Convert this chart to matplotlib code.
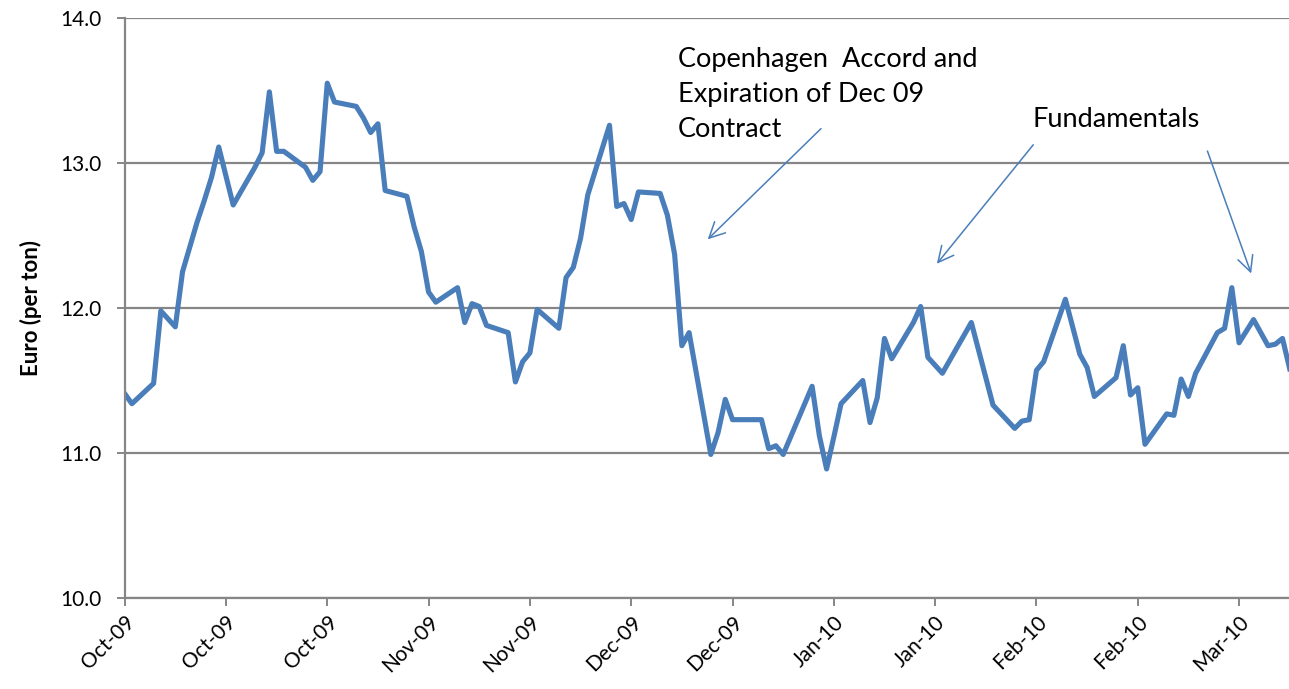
"""
plot.py
EUA price, Oct 2009 - Mar 2010, with annotations.
"""

import matplotlib
matplotlib.use("Agg")
import matplotlib.pyplot as plt

plt.rcParams["font.family"] = ["Lato", "DejaVu Sans"]

# trading day offset from 1 Oct 2009, price in euro per ton
days = [0, 1, 4, 5, 7, 8, 10, 11, 12, 13, 15, 18, 19, 20, 21, 22, 25, 26, 27, 28,
        29, 32, 33, 34, 35, 36, 39, 40, 41, 42, 43, 46, 47, 48, 49, 50, 53, 54, 55, 56,
        57, 60, 61, 62, 63, 64, 67, 68, 69, 70, 71, 74, 75, 76, 77, 78, 81, 82, 83, 84,
        88, 89, 90, 91, 95, 96, 97, 98, 99, 102, 103, 104, 105, 106, 109, 110, 111, 113,
        117, 120, 123, 124, 125, 126, 127, 130, 131, 132, 133, 134, 137, 138, 139, 140,
        141, 144, 145, 146, 147, 148, 151, 152, 153, 154, 156, 158, 159, 160, 161]
prices = [11.41, 11.34, 11.48, 11.98, 11.87, 12.25, 12.59, 12.74, 12.90, 13.11,
          12.71, 12.97, 13.07, 13.49, 13.08, 13.08, 12.97, 12.88, 12.94, 13.55,
          13.42, 13.39, 13.31, 13.21, 13.27, 12.81, 12.77, 12.56, 12.39, 12.11,
          12.04, 12.14, 11.90, 12.03, 12.01, 11.88, 11.83, 11.49, 11.63, 11.69,
          11.99, 11.86, 12.21, 12.28, 12.48, 12.78, 13.26, 12.70, 12.72, 12.61,
          12.80, 12.79, 12.64, 12.37, 11.74, 11.83, 10.99, 11.14, 11.37, 11.23,
          11.23, 11.03, 11.05, 10.99, 11.46, 11.12, 10.89, 11.11, 11.34, 11.50,
          11.21, 11.38, 11.79, 11.65, 11.90, 12.01, 11.66, 11.55, 11.90, 11.33,
          11.17, 11.22, 11.23, 11.57, 11.63, 12.06, 11.87, 11.68, 11.59, 11.39,
          11.52, 11.74, 11.40, 11.45, 11.06, 11.27, 11.26, 11.51, 11.39, 11.55,
          11.83, 11.86, 12.14, 11.76, 11.92, 11.74, 11.75, 11.79, 11.58]

tick_days = [0, 14, 28, 42, 56, 70, 84, 98, 112, 126, 140, 154]
tick_labels = ["Oct-09", "Oct-09", "Oct-09", "Nov-09", "Nov-09", "Dec-09",
               "Dec-09", "Jan-10", "Jan-10", "Feb-10", "Feb-10", "Mar-10"]
y_ticks = [10.0, 11.0, 12.0, 13.0, 14.0]

AXIS_GREY = "#868686"
LINE_BLUE = "#4A7EBB"

fig = plt.figure(figsize=(12.89, 6.89), dpi=100)
ax = fig.add_axes([0.0967, 0.132, 0.9033, 0.842])

ax.plot(days, prices, color=LINE_BLUE, linewidth=3.7, solid_joinstyle="round")

ax.set_xlim(0, 160.9)
ax.set_ylim(10, 14)
ax.set_yticks(y_ticks)
ax.set_yticklabels([f"{v:.1f}" for v in y_ticks])
ax.set_xticks(tick_days)
ax.set_xticklabels(tick_labels, rotation=45, ha="right", rotation_mode="anchor")

ax.yaxis.grid(True, color=AXIS_GREY, linewidth=1.6)
ax.set_axisbelow(True)
for side in ("top", "right"):
    ax.spines[side].set_visible(False)
for side in ("left", "bottom"):
    ax.spines[side].set_color(AXIS_GREY)
    ax.spines[side].set_linewidth(1.6)
ax.tick_params(axis="both", colors=AXIS_GREY, width=1.4, length=6,
               labelcolor="black", labelsize=15)
ax.tick_params(axis="x", pad=4)
ax.tick_params(axis="y", pad=11)

ax.set_ylabel("Euro (per ton)", fontsize=16, fontweight="bold", labelpad=13)

arrow = dict(arrowstyle="->", color=LINE_BLUE, linewidth=1.1, mutation_scale=28)
ax.text(76.5, 13.80, "Copenhagen  Accord and\nExpiration of Dec 09\nContract",
        fontsize=19.5, va="top", ha="left", linespacing=1.5)
ax.annotate("", xy=(80.3, 12.46), xytext=(96.5, 13.25), arrowprops=arrow)
ax.text(125.4, 13.3, "Fundamentals", fontsize=19.5, va="center", ha="left")
ax.annotate("", xy=(112, 12.29), xytext=(125.8, 13.14), arrowprops=arrow)
ax.annotate("", xy=(155.8, 12.22), xytext=(149.5, 13.1), arrowprops=arrow)

fig.savefig("out.png", dpi=100)
